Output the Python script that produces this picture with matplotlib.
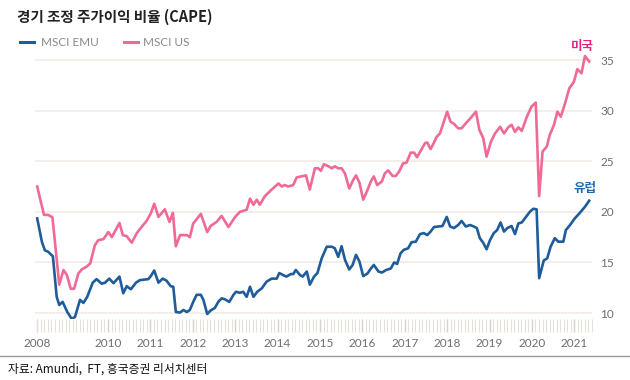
import matplotlib
matplotlib.use("Agg")
import matplotlib.pyplot as plt
from matplotlib.lines import Line2D
import numpy as np

plt.rcParams['font.family'] = ['Lato', 'Noto Sans CJK KR', 'DejaVu Sans']

# ---- data (decimal years, CAPE values) ----
us_dates = [2008.33, 2008.49, 2008.59, 2008.69, 2008.85, 2008.95, 2009.03, 2009.12, 2009.20, 2009.30,
            2009.38, 2009.50, 2009.58, 2009.69, 2009.77, 2009.89, 2010.01, 2010.09, 2010.27, 2010.35,
            2010.44, 2010.56, 2010.68, 2010.79, 2010.91, 2011.01, 2011.09, 2011.19, 2011.34, 2011.45,
            2011.53, 2011.60, 2011.70, 2011.86, 2011.93, 2012.01, 2012.19, 2012.34, 2012.42, 2012.56,
            2012.68, 2012.84, 2013.00, 2013.11, 2013.27, 2013.35, 2013.43, 2013.51, 2013.58, 2013.70,
            2013.86, 2014.02, 2014.10, 2014.17, 2014.25, 2014.37, 2014.45, 2014.67, 2014.76, 2014.88,
            2014.96, 2015.02, 2015.09, 2015.20, 2015.28, 2015.35, 2015.43, 2015.51, 2015.59, 2015.69,
            2015.79, 2015.85, 2015.93, 2016.02, 2016.12, 2016.20, 2016.27, 2016.35, 2016.46, 2016.53,
            2016.61, 2016.71, 2016.79, 2016.87, 2016.96, 2017.04, 2017.14, 2017.22, 2017.29, 2017.40,
            2017.48, 2017.53, 2017.61, 2017.69, 2017.75, 2017.83, 2017.91, 2018.00, 2018.08, 2018.16,
            2018.26, 2018.34, 2018.44, 2018.55, 2018.68, 2018.76, 2018.85, 2018.93, 2019.03, 2019.13,
            2019.25, 2019.34, 2019.44, 2019.52, 2019.60, 2019.68, 2019.76, 2019.88, 2019.99, 2020.09,
            2020.17, 2020.25, 2020.35, 2020.42, 2020.52, 2020.60, 2020.68, 2020.78, 2020.88, 2020.99,
            2021.07, 2021.17, 2021.25, 2021.35]
us_values = [22.5, 19.7, 19.7, 19.45, 12.8, 14.25, 13.75, 12.4, 12.4, 13.9,
             14.3, 14.6, 14.9, 16.7, 17.2, 17.3, 18.0, 17.5, 18.9, 17.7,
             17.6, 16.95, 17.9, 18.5, 19.1, 19.85, 20.8, 19.5, 20.25, 19.0,
             19.9, 16.6, 17.7, 17.7, 17.5, 18.85, 19.8, 18.0, 18.6, 19.0,
             19.6, 18.5, 19.5, 20.0, 20.2, 21.3, 20.7, 21.2, 20.7, 21.55,
             22.2, 22.8, 22.5, 22.65, 22.5, 22.65, 23.4, 23.6, 22.2, 24.3,
             24.3, 24.05, 24.7, 24.5, 24.3, 24.5, 24.3, 24.3, 23.8, 22.3,
             23.2, 23.6, 22.9, 21.2, 22.15, 23.0, 23.5, 22.65, 23.0, 23.8,
             24.1, 23.55, 23.55, 24.0, 24.8, 24.85, 25.85, 25.85, 25.4, 26.2,
             26.8, 26.85, 26.2, 26.85, 27.4, 27.75, 28.75, 29.9, 28.9, 28.7,
             28.25, 28.25, 28.75, 29.25, 29.9, 28.1, 27.3, 25.45, 26.9, 27.75,
             28.4, 27.75, 28.35, 28.6, 27.9, 28.35, 28.0, 29.4, 30.4, 30.8,
             21.55, 25.95, 26.45, 27.6, 28.6, 29.9, 29.4, 30.7, 32.2, 32.85,
             34.1, 33.7, 35.4, 34.85]

emu_dates = [2008.33, 2008.44, 2008.51, 2008.59, 2008.70, 2008.79, 2008.85, 2008.93, 2009.04, 2009.14,
             2009.22, 2009.34, 2009.42, 2009.51, 2009.64, 2009.73, 2009.85, 2009.93, 2010.03, 2010.13,
             2010.27, 2010.36, 2010.44, 2010.54, 2010.66, 2010.75, 2010.95, 2011.01, 2011.09, 2011.19,
             2011.29, 2011.38, 2011.48, 2011.54, 2011.60, 2011.70, 2011.78, 2011.86, 2011.93, 2012.01,
             2012.09, 2012.19, 2012.25, 2012.34, 2012.42, 2012.52, 2012.60, 2012.68, 2012.76, 2012.86,
             2012.96, 2013.02, 2013.11, 2013.19, 2013.27, 2013.35, 2013.43, 2013.52, 2013.63, 2013.74,
             2013.86, 2013.98, 2014.04, 2014.13, 2014.21, 2014.31, 2014.37, 2014.43, 2014.53, 2014.59,
             2014.69, 2014.76, 2014.86, 2014.94, 2015.04, 2015.16, 2015.28, 2015.35, 2015.43, 2015.51,
             2015.59, 2015.69, 2015.77, 2015.85, 2015.93, 2016.02, 2016.12, 2016.20, 2016.27, 2016.38,
             2016.46, 2016.56, 2016.67, 2016.75, 2016.82, 2016.90, 2016.98, 2017.08, 2017.16, 2017.26,
             2017.36, 2017.45, 2017.53, 2017.61, 2017.69, 2017.79, 2017.89, 2017.99, 2018.07, 2018.16,
             2018.26, 2018.34, 2018.44, 2018.54, 2018.63, 2018.70, 2018.77, 2018.85, 2018.93, 2019.01,
             2019.10, 2019.18, 2019.26, 2019.34, 2019.42, 2019.52, 2019.60, 2019.68, 2019.76, 2019.86,
             2019.95, 2020.03, 2020.11, 2020.17, 2020.28, 2020.36, 2020.44, 2020.54, 2020.62, 2020.74,
             2020.80, 2020.90, 2021.01, 2021.13, 2021.25, 2021.35]
emu_values = [19.35, 17.05, 16.2, 16.05, 15.6, 11.6, 10.8, 11.1, 10.1, 9.45,
              9.6, 11.3, 11.0, 11.6, 13.0, 13.35, 12.9, 13.0, 13.4, 12.95,
              13.6, 11.95, 12.65, 12.35, 13.0, 13.25, 13.35, 13.65, 14.2, 13.0,
              13.4, 13.2, 12.65, 12.6, 10.1, 10.05, 10.3, 10.1, 10.3, 11.1,
              11.8, 11.8, 11.3, 9.9, 10.25, 10.5, 11.1, 11.45, 11.35, 11.1,
              11.8, 12.1, 12.0, 12.1, 11.6, 12.6, 11.6, 12.1, 12.45, 13.1,
              13.4, 13.4, 13.95, 13.75, 13.6, 13.85, 13.85, 14.25, 13.75, 13.6,
              14.1, 12.8, 13.6, 13.95, 15.4, 16.55, 16.55, 16.4, 15.55, 16.6,
              15.25, 14.3, 14.75, 15.75, 15.1, 13.65, 13.9, 14.4, 14.75, 14.1,
              14.0, 14.25, 14.4, 15.0, 14.85, 15.9, 16.25, 16.4, 17.0, 17.05,
              17.8, 17.9, 17.7, 18.05, 18.5, 18.55, 18.6, 19.5, 18.55, 18.4,
              18.7, 19.1, 18.55, 18.7, 18.55, 18.4, 17.4, 16.95, 16.3, 17.2,
              17.9, 18.2, 18.95, 18.05, 18.4, 18.6, 17.8, 18.85, 18.95, 19.5,
              20.0, 20.3, 20.25, 13.45, 15.2, 15.4, 16.55, 17.4, 17.05, 17.05,
              18.2, 18.7, 19.35, 19.9, 20.5, 21.1]

year_ticks = [2010, 2011, 2012, 2013, 2014, 2015, 2016, 2017, 2018, 2019, 2020, 2021]
y_ticks = [10, 15, 20, 25, 30, 35]
series_names = ['MSCI EMU', 'MSCI US']
end_labels = ['유럽', '미국']
title = '경기 조정 주가이익 비율 (CAPE)'
source = '자료: Amundi,  FT, 흥국증권 리서치센터'

BLUE = '#1f5c9a'
PINK = '#ef6a95'
BLUE_LBL = '#1a6bb0'
PINK_LBL = '#e8207f'
GRID = '#f3eee9'
TICK = '#e6e0da'
TXT = '#6e6e6e'

W, H = 630, 380
fig = plt.figure(figsize=(W / 100, H / 100), dpi=100)
ax = fig.add_axes([35 / W, 1 - 319 / H, (592 - 35) / W, (319 - 48) / H])

x0 = us_dates[0]
ax.set_xlim(2008.278, 2021.415)
ax.set_ylim(9.41, 36.19)

for v in y_ticks:
    ax.axhline(v, color=GRID, lw=1.4, zorder=0)

ax.plot(emu_dates, emu_values, color=BLUE, lw=1.9, solid_joinstyle='round', zorder=3)
ax.plot(us_dates, us_values, color=PINK, lw=1.9, solid_joinstyle='round', zorder=3)

for s in ax.spines.values():
    s.set_visible(False)

ax.yaxis.tick_right()
ax.set_yticks(y_ticks)
ax.set_yticklabels([str(v) for v in y_ticks])
ax.tick_params(axis='y', length=0, pad=6, labelsize=8.5, labelcolor=TXT)

ax.set_xticks([x0] + year_ticks)
ax.set_xticklabels(['2008'] + [str(y) for y in year_ticks])
months = np.arange(2008 + 4 / 12, 2021.42, 1 / 12)
ax.set_xticks(months, minor=True)
ax.tick_params(axis='x', which='major', length=9, width=1.0, color='#d8d0c9', pad=5,
               labelsize=8.5, labelcolor=TXT)
ax.tick_params(axis='x', which='minor', length=9, width=0.8, color=TICK)

# end labels
ax.annotate(end_labels[1], xy=(us_dates[-1], us_values[-1]), xytext=(-5, 6),
            textcoords='offset points', ha='center', va='bottom', color=PINK_LBL,
            fontsize=9, fontweight='bold', family=['Noto Sans CJK KR'])
ax.annotate(end_labels[0], xy=(emu_dates[-1], emu_values[-1]), xytext=(-3, 4),
            textcoords='offset points', ha='center', va='bottom', color=BLUE_LBL,
            fontsize=9, fontweight='bold', family=['Noto Sans CJK KR'])

# title
fig.text(17 / W, 1 - 17 / H, title, ha='left', va='center', fontsize=10.5,
         fontweight='bold', color='#222222', family=['Noto Sans CJK KR', 'DejaVu Sans'])

# legend (manual)
ly = 1 - 42 / H
fig.add_artist(Line2D([20 / W, 34 / W], [ly, ly], color=BLUE, lw=2.2))
fig.text(41 / W, ly, series_names[0], ha='left', va='center', fontsize=8.5, color='#8a8a8a')
fig.add_artist(Line2D([124 / W, 138 / W], [ly, ly], color=PINK, lw=2.2))
fig.text(143 / W, ly, series_names[1], ha='left', va='center', fontsize=8.5, color='#8a8a8a')

# separator and source
fig.add_artist(Line2D([0, 1], [1 - 356 / H, 1 - 356 / H], color='#9a9a9a', lw=1.0))
fig.text(8 / W, 1 - 369 / H, source, ha='left', va='center', fontsize=8.5,
         color='#111111', family=['Noto Sans CJK KR', 'DejaVu Sans'])

fig.savefig('out.png', dpi=100)
